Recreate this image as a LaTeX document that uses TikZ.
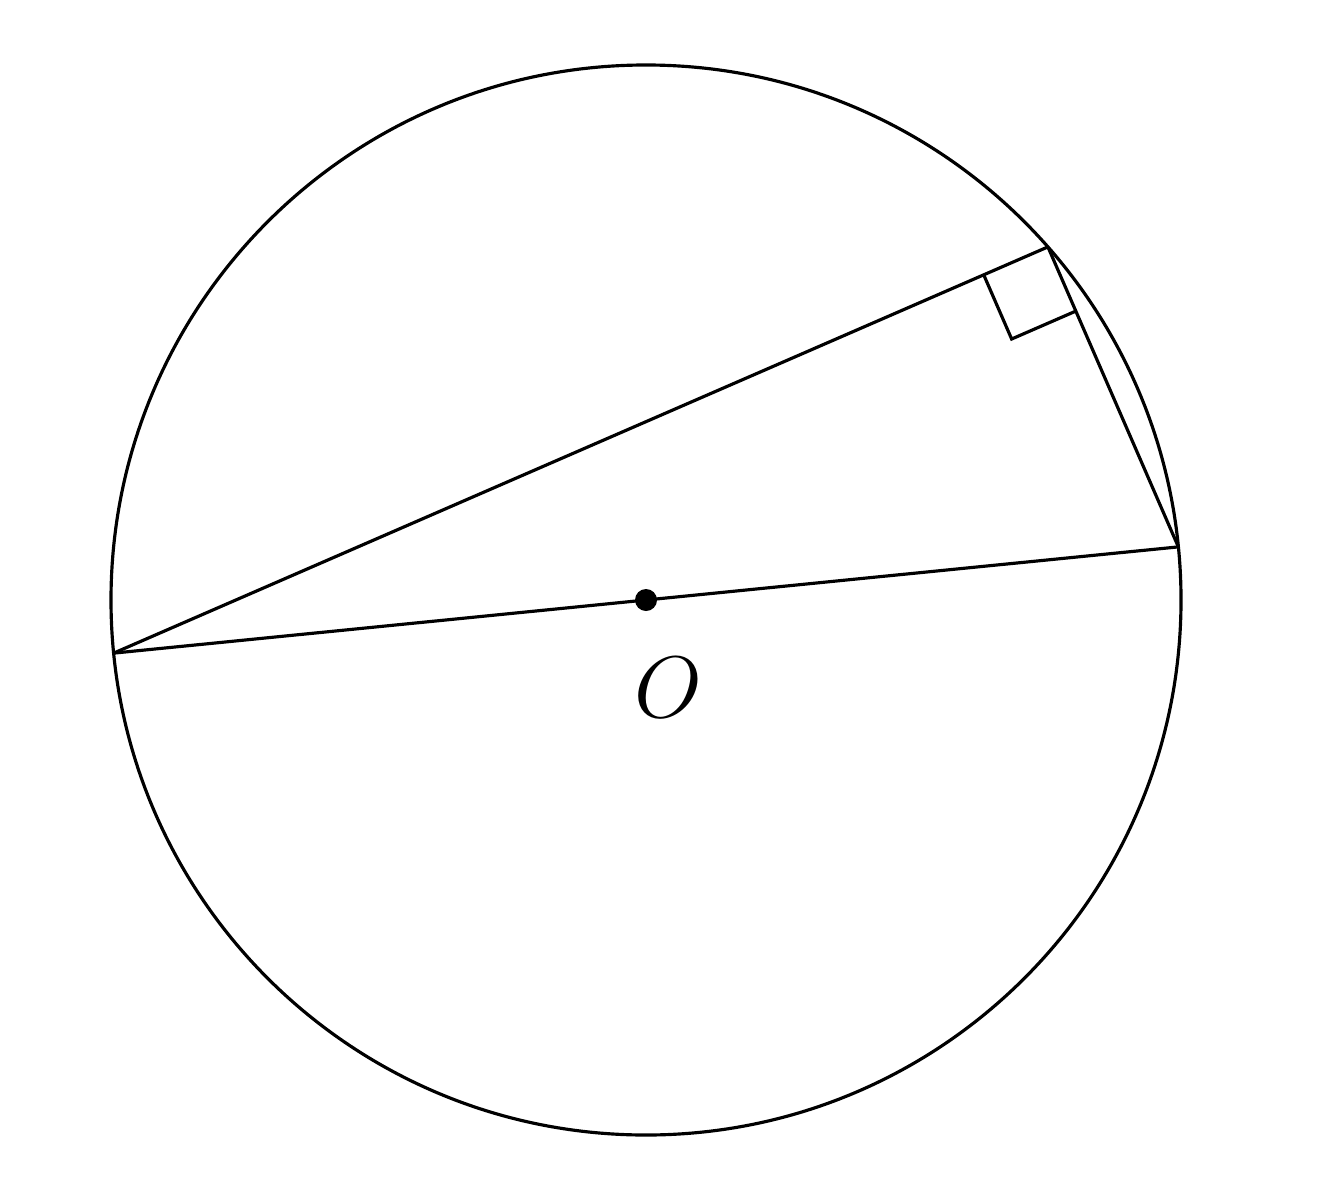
\documentclass[tikz,border=0pt]{standalone}
\usetikzlibrary{calc}
\begin{document}
\begin{tikzpicture}[line width=0.9pt]
\useasboundingbox (0,0) rectangle (13.26,12);
\coordinate (o) at (6.46,6.0);
\draw (o) circle (5.35);
\coordinate (a) at ($(o)+(185.7:5.35)$);
\coordinate (b) at ($(o)+(5.7:5.35)$);
\coordinate (c) at ($(o)+(41.3:5.35)$);
\node[circle, inner sep=0pt, minimum size=0.22cm, fill] (dot) at (o) {};
\node[font=\fontsize{26}{30}\selectfont] (lbl) at (6.68,5.12) {$O$};
\draw (a) -- (b);
\draw (a) -- (c);
\draw (c) -- (b);
% right angle at c
\coordinate (p) at ($(c)!0.7cm!(a)$);
\coordinate (q) at ($(c)!0.7cm!(b)$);
\coordinate (r) at ($(p)+(q)-(c)$);
\draw (p) -- (r) -- (q);

\end{tikzpicture}
\end{document}
